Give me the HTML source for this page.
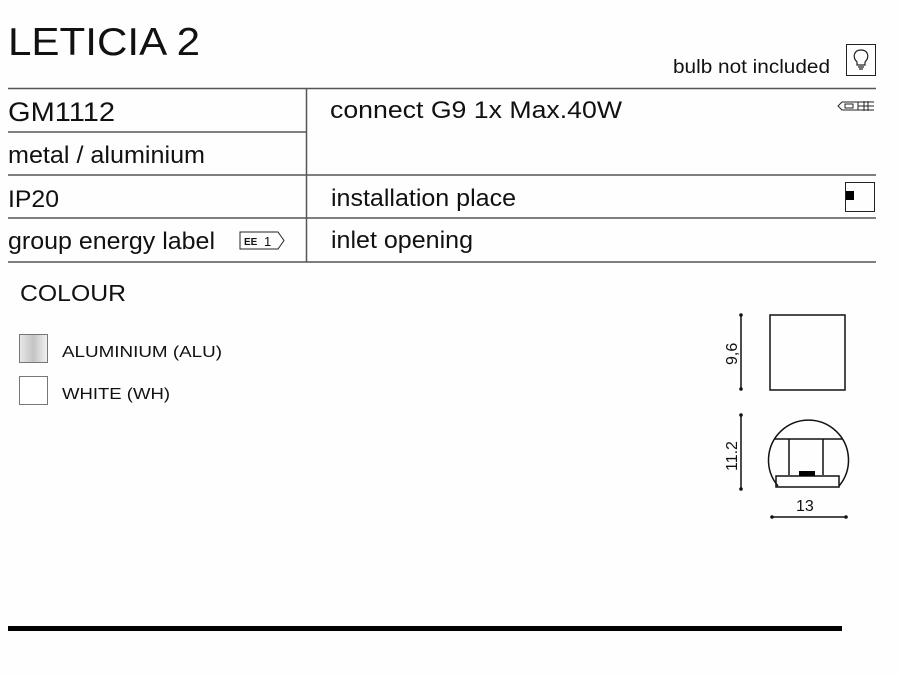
<!DOCTYPE html>
<html><head><meta charset="utf-8"><style>html,body{margin:0;padding:0;background:#fff}svg{display:block}</style></head>
<body>
<svg width="900" height="675" viewBox="0 0 900 675" xmlns="http://www.w3.org/2000/svg" font-family="Liberation Sans, Arial, sans-serif" fill="#111">
<rect width="900" height="675" fill="#fefefe"/>
<text x="8" y="55" font-size="39" textLength="192" lengthAdjust="spacingAndGlyphs">LETICIA 2</text>
<text x="673" y="73" font-size="19" textLength="157" lengthAdjust="spacingAndGlyphs">bulb not included</text>
<rect x="846.5" y="44.5" width="29" height="31" fill="none" stroke="#222" stroke-width="1"/>
<g fill="none" stroke="#222" stroke-width="1.2">
<path d="M857 62 C852 57 854 50 861 50 C868 50 870 57 865 62 L865 65 L857 65 Z"/>
<path d="M858 67 H864 M859 69 H863"/>
</g>
<g stroke="#555" stroke-width="1.5">
<line x1="8" y1="88.5" x2="876" y2="88.5"/>
<line x1="8" y1="132" x2="306" y2="132"/>
<line x1="8" y1="175" x2="876" y2="175"/>
<line x1="8" y1="218" x2="876" y2="218"/>
<line x1="8" y1="262" x2="876" y2="262"/>
<line x1="306.5" y1="88" x2="306.5" y2="262"/>
</g>
<g font-size="24">
<text x="8" y="121" font-size="27" textLength="107" lengthAdjust="spacingAndGlyphs">GM1112</text>
<text x="8" y="163" textLength="197" lengthAdjust="spacingAndGlyphs">metal / aluminium</text>
<text x="8" y="207" textLength="51" lengthAdjust="spacingAndGlyphs">IP20</text>
<text x="8" y="249" textLength="207" lengthAdjust="spacingAndGlyphs">group energy label</text>
<text x="330" y="118" textLength="292" lengthAdjust="spacingAndGlyphs">connect G9 1x Max.40W</text>
<text x="331" y="206" textLength="185" lengthAdjust="spacingAndGlyphs">installation place</text>
<text x="331" y="248" textLength="142" lengthAdjust="spacingAndGlyphs">inlet opening</text>
</g>
<path d="M240 232 H278 L284 240.5 L278 249 H240 Z" fill="none" stroke="#222" stroke-width="1"/>
<text x="244" y="245" font-size="10" font-weight="bold">EE</text>
<text x="264" y="246" font-size="13">1</text>
<g fill="none" stroke="#222" stroke-width="1">
<path d="M838 106 L842 102 H858 V110 H842 Z"/>
<rect x="845" y="104" width="8" height="4"/>
<path d="M858 102 H874 M858 106 H874 M858 110 H874 M864 101 V111 M868 101 V111"/>
</g>
<rect x="845.5" y="182.5" width="29" height="29" fill="none" stroke="#222" stroke-width="1"/>
<rect x="846" y="191" width="8" height="9" fill="#000"/>
<text x="20" y="301" font-size="23" textLength="106" lengthAdjust="spacingAndGlyphs">COLOUR</text>
<defs><linearGradient id="g" x1="0" x2="1"><stop offset="0" stop-color="#e8e8e8"/><stop offset=".5" stop-color="#c4c4c4"/><stop offset="1" stop-color="#f2f2f2"/></linearGradient></defs>
<rect x="19.5" y="334.5" width="28" height="28" fill="url(#g)" stroke="#777"/>
<rect x="19.5" y="376.5" width="28" height="28" fill="#fff" stroke="#777"/>
<text x="62" y="357" font-size="16" textLength="160" lengthAdjust="spacingAndGlyphs">ALUMINIUM (ALU)</text>
<text x="62" y="399" font-size="16" textLength="108" lengthAdjust="spacingAndGlyphs">WHITE (WH)</text>
<g stroke="#111" stroke-width="1.5" fill="none">
<rect x="770" y="315" width="75" height="75"/>
<line x1="741" y1="315" x2="741" y2="389"/>
<line x1="741" y1="415" x2="741" y2="489"/>
<line x1="772" y1="517" x2="846" y2="517"/>
<path d="M778 486 A40 40 0 1 1 839 486"/>
<line x1="775" y1="439" x2="842" y2="439"/>
<line x1="789" y1="439" x2="789" y2="475"/>
<line x1="823" y1="439" x2="823" y2="475"/>
<rect x="776" y="476" width="63" height="11"/>
</g>
<rect x="799" y="471" width="16" height="5" fill="#000"/>
<g fill="#111"><circle cx="741" cy="315" r="1.8"/><circle cx="741" cy="389" r="1.8"/><circle cx="741" cy="415" r="1.8"/><circle cx="741" cy="489" r="1.8"/><circle cx="772" cy="517" r="1.8"/><circle cx="846" cy="517" r="1.8"/></g>
<text font-size="16" transform="translate(737,365) rotate(-90)">9,6</text>
<text font-size="16" transform="translate(737,471) rotate(-90)">11.2</text>
<text x="796" y="511" font-size="16">13</text>
<rect x="8" y="626" width="834" height="5" fill="#000"/>
</svg>
</body></html>
